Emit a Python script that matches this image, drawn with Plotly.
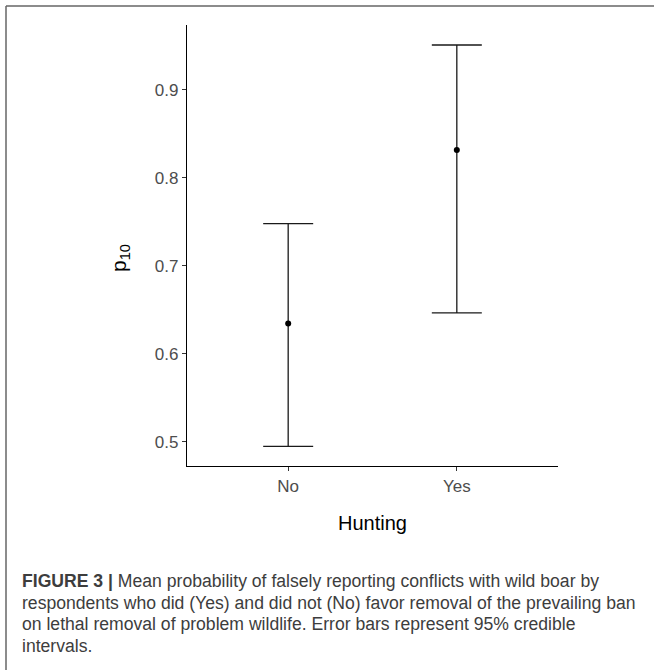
import plotly.graph_objects as go

# Data
categories = ["No", "Yes"]
mean_p10 = [0.6345, 0.8315]
lower_ci = [0.495, 0.6466]
upper_ci = [0.748, 0.9508]
y_ticks = [0.5, 0.6, 0.7, 0.8, 0.9]

W, H = 654, 670
ML, MR, MT, MB = 187, 96, 25, 204
PW, PH = W - ML - MR, H - MT - MB


def px(x):
    return (x - ML) / PW


def py(y):
    return (H - MB - y) / PH


err_plus = [u - m for u, m in zip(upper_ci, mean_p10)]
err_minus = [m - l for m, l in zip(mean_p10, lower_ci)]

fig = go.Figure()
fig.add_trace(go.Scatter(
    x=categories, y=mean_p10, mode="markers",
    marker=dict(color="black", size=6),
    error_y=dict(type="data", symmetric=False, array=err_plus, arrayminus=err_minus,
                 color="#1a1a1a", thickness=1.3, width=25),
    showlegend=False, hoverinfo="skip",
))

fig.update_layout(
    width=W, height=H,
    margin=dict(l=ML, r=MR, t=MT, b=MB, autoexpand=False),
    paper_bgcolor="white", plot_bgcolor="white",
    font=dict(family="Liberation Sans, Arial, sans-serif"),
    xaxis=dict(range=[-0.6, 1.6], showline=True, linecolor="black", linewidth=1.2,
               ticks="outside", ticklen=4, tickcolor="#333333", tickwidth=1,
               tickfont=dict(size=17, color="#4d4d4d"), showgrid=False, zeroline=False),
    yaxis=dict(range=[0.4727, 0.9735], showline=True, linecolor="black", linewidth=1.2,
               ticks="outside", ticklen=4, tickcolor="#333333", tickwidth=1,
               tickvals=y_ticks, ticktext=[f"{v:.1f}" for v in y_ticks],
               tickfont=dict(size=17, color="#4d4d4d"), showgrid=False, zeroline=False),
)

# axis titles
fig.add_annotation(x=0.5, y=py(523), xref="paper", yref="paper", text="Hunting",
                   showarrow=False, font=dict(size=20, color="black"),
                   xanchor="center", yanchor="middle")
fig.add_annotation(x=px(120), y=py(258), xref="paper", yref="paper",
                   text="p<sub>10</sub>", textangle=-90, showarrow=False,
                   font=dict(size=21, color="black"), xanchor="center", yanchor="middle")

# frame
fig.add_shape(type="line", xref="paper", yref="paper", x0=px(6), x1=px(6), y0=py(6), y1=py(700),
              line=dict(color="#666666", width=1.5))
fig.add_shape(type="line", xref="paper", yref="paper", x0=px(6), x1=px(700), y0=py(6), y1=py(6),
              line=dict(color="#666666", width=1.5))

# caption
caption_lines = [
    "<b>FIGURE 3 |</b> Mean probability of falsely reporting conflicts with wild boar by",
    "respondents who did (Yes) and did not (No) favor removal of the prevailing ban",
    "on lethal removal of problem wildlife. Error bars represent 95% credible",
    "intervals.",
]
caption_y = [581, 602.5, 624, 646]
for t, yy in zip(caption_lines, caption_y):
    fig.add_annotation(x=px(20), y=py(yy), xref="paper", yref="paper", text=t,
                       showarrow=False, align="left", xanchor="left", yanchor="middle",
                       font=dict(size=17.6, color="#3d3d3d"))

fig.write_html("out.html", config={"displayModeBar": False},
               post_script="document.body.style.margin='0';document.body.style.overflow='hidden';")
